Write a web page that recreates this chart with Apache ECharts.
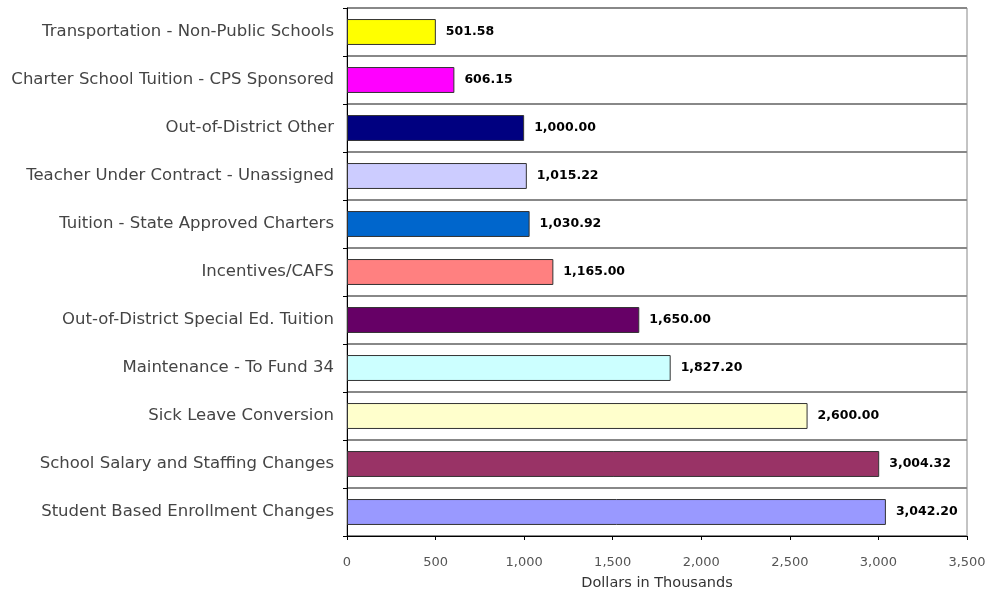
<!DOCTYPE html>
<html>
<head>
<meta charset="utf-8">
<script src="https://cdn.jsdelivr.net/npm/echarts@6/dist/echarts.min.js"></script>
<style>html,body{margin:0;padding:0;background:#fff}#c{width:999px;height:594px}</style>
</head>
<body>
<div id="c"></div>
<script>
const categories = [
  "Transportation - Non-Public Schools",
  "Charter School Tuition - CPS Sponsored",
  "Out-of-District Other",
  "Teacher Under Contract - Unassigned",
  "Tuition - State Approved Charters",
  "Incentives/CAFS",
  "Out-of-District Special Ed. Tuition",
  "Maintenance - To Fund 34",
  "Sick Leave Conversion",
  "School Salary and Staffing Changes",
  "Student Based Enrollment Changes"
];
const values = [501.58, 606.15, 1000.00, 1015.22, 1030.92, 1165.00, 1650.00, 1827.20, 2600.00, 3004.32, 3042.20];
const barColors = ["#FFFF00", "#FF00FF", "#000080", "#CCCCFF", "#0066CC", "#FF8080", "#660066", "#CCFFFF", "#FFFFCC", "#993366", "#9999FF"];
const xTicks = [0, 500, 1000, 1500, 2000, 2500, 3000, 3500];
const axisTitle = "Dollars in Thousands";

const chart = echarts.init(document.getElementById('c'));
const fmt = v => v.toLocaleString('en-US', {minimumFractionDigits: 2, maximumFractionDigits: 2});
const FONT = 'DejaVu Sans, Verdana, sans-serif';
chart.setOption({
  animation: false,
  grid: {left: 347, right: 32, top: 8, bottom: 58, show: true, borderColor: '#888', borderWidth: 1,
    outerBoundsMode: 'none', containLabel: false},
  xAxis: {
    type: 'value', min: xTicks[0], max: xTicks[xTicks.length - 1], interval: 500,
    axisLine: {show: true, lineStyle: {color: '#000', width: 1}},
    axisTick: {show: true, length: 4, lineStyle: {color: '#000'}},
    splitLine: {show: false},
    axisLabel: {color: '#555', fontSize: 13, fontFamily: FONT, margin: 20,
      formatter: v => v.toLocaleString('en-US')},
    name: axisTitle, nameLocation: 'middle', nameGap: 40,
    nameTextStyle: {color: '#333', fontSize: 14.5, fontFamily: FONT}
  },
  yAxis: {
    type: 'category', data: categories, inverse: true,
    axisLine: {show: true, lineStyle: {color: '#000', width: 1}},
    axisTick: {show: true, length: 4, lineStyle: {color: '#000'}},
    splitLine: {show: true, lineStyle: {color: '#888', width: 2}},
    axisLabel: {color: '#444', fontSize: 16.5, fontFamily: FONT, margin: 13}
  },
  series: [{
    type: 'bar',
    data: values.map((v, i) => ({value: v, itemStyle: {color: barColors[i]}})),
    barCategoryGap: '46%',
    itemStyle: {borderColor: '#333', borderWidth: 1},
    label: {show: true, position: 'right', distance: 10, color: '#000', fontWeight: 'bold',
      fontSize: 12.5, fontFamily: FONT, formatter: p => fmt(p.value)}
  }]
});
</script>
</body>
</html>
